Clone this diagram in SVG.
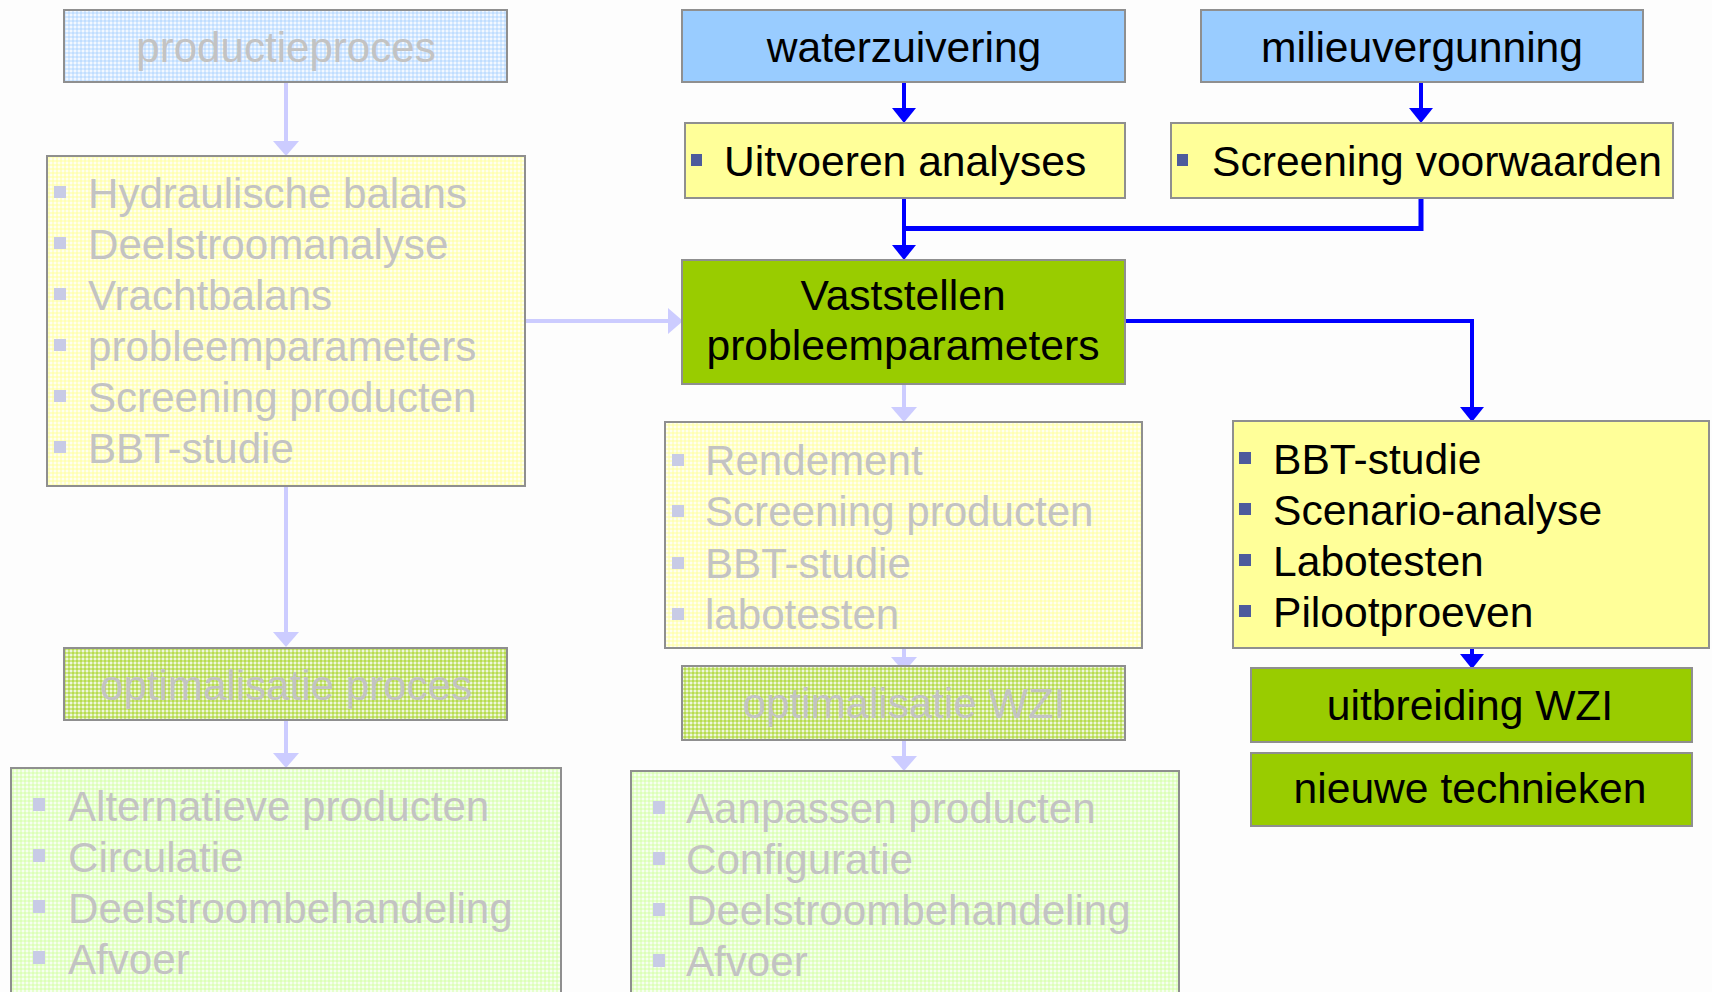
<svg xmlns="http://www.w3.org/2000/svg" width="1712" height="992" viewBox="0 0 1712 992">
<style>
  text { font-family: "Liberation Sans", Arial, sans-serif; font-size: 42.6px; }
  .box { stroke: #8f8f8f; stroke-width: 2; }
  .act { fill: #000; }
  .fad { fill: #c3c3c3; font-size: 42.1px; }
  .mid { text-anchor: middle; }
  .ba { fill: #4d5b9c; }
  .bf { fill: #c8cbe6; }
  .cb { fill: none; stroke: #0000ff; stroke-width: 4; }
  .cl { fill: none; stroke: #ccccff; stroke-width: 4; }
</style>
<defs>
  <pattern id="pBlue" width="4" height="4" patternUnits="userSpaceOnUse">
    <rect width="4" height="4" fill="#f2f8ff"/>
    <rect width="2" height="4" fill="#99ccff" opacity="0.35"/>
    <rect width="4" height="2" fill="#99ccff" opacity="0.35"/>
  </pattern>
  <pattern id="pYel" width="4" height="4" patternUnits="userSpaceOnUse">
    <rect width="4" height="4" fill="#fffff0"/>
    <rect width="2" height="4" fill="#ffff99" opacity="0.45"/>
    <rect width="4" height="2" fill="#ffff99" opacity="0.45"/>
  </pattern>
  <pattern id="pGrn" width="4" height="4" patternUnits="userSpaceOnUse">
    <rect width="4" height="4" fill="#eef7dc"/>
    <rect width="2" height="4" fill="#99cc00" opacity="0.4"/>
    <rect width="4" height="2" fill="#99cc00" opacity="0.4"/>
  </pattern>
  <pattern id="pLgr" width="4" height="4" patternUnits="userSpaceOnUse">
    <rect width="4" height="4" fill="#f6fff0"/>
    <rect width="2" height="4" fill="#ccff99" opacity="0.4"/>
    <rect width="4" height="2" fill="#ccff99" opacity="0.4"/>
  </pattern>
  <marker id="mB" markerUnits="userSpaceOnUse" markerWidth="16" markerHeight="26" refX="0" refY="12" orient="auto" overflow="visible">
    <path d="M0,0 L15,12 L0,24 z" fill="#0000ff"/>
  </marker>
  <marker id="mL" markerUnits="userSpaceOnUse" markerWidth="16" markerHeight="28" refX="0" refY="13" orient="auto" overflow="visible">
    <path d="M0,0 L15,13 L0,26 z" fill="#ccccff"/>
  </marker>
</defs>
<rect width="1712" height="992" fill="#fdfdfd"/>

<g id="connectors">
  <path class="cl" d="M286 82 V141" marker-end="url(#mL)"/>
  <path class="cl" d="M525 321 H668" marker-end="url(#mL)"/>
  <path class="cl" d="M286 486 V632" marker-end="url(#mL)"/>
  <path class="cl" d="M286 720 V753" marker-end="url(#mL)"/>
  <path class="cl" d="M904 384 V407" marker-end="url(#mL)"/>
  <path class="cl" d="M904 649 V657" marker-end="url(#mL)"/>
  <path class="cl" d="M904 740 V756" marker-end="url(#mL)"/>
  <path class="cb" d="M904 82 V108" marker-end="url(#mB)"/>
  <path class="cb" d="M1421 82 V108" marker-end="url(#mB)"/>
  <path class="cb" d="M904 197 V245" marker-end="url(#mB)"/>
  <path class="cb" style="stroke-width:5" d="M1421 197 V228.5 H904"/>
  <path class="cb" d="M1125 321 H1472 V407" marker-end="url(#mB)"/>
  <path class="cb" d="M1472 648 V654" marker-end="url(#mB)"/>
</g>

<g id="productieproces">
  <rect class="box" x="64" y="10" width="443" height="72" fill="url(#pBlue)"/>
  <text class="fad mid" x="286" y="62">productieproces</text>
</g>
<g id="waterzuivering">
  <rect class="box" x="682" y="10" width="443" height="72" fill="#99ccff"/>
  <text class="act mid" x="904" y="62">waterzuivering</text>
</g>
<g id="milieuvergunning">
  <rect class="box" x="1201" y="10" width="442" height="72" fill="#99ccff"/>
  <text class="act mid" x="1422" y="62">milieuvergunning</text>
</g>
<g id="uitvoeren">
  <rect class="box" x="685" y="123" width="440" height="75" fill="#ffff99"/>
  <rect class="ba" x="691" y="154" width="11" height="12"/>
  <text class="act" x="724" y="176">Uitvoeren analyses</text>
</g>
<g id="screening">
  <rect class="box" x="1171" y="123" width="502" height="75" fill="#ffff99"/>
  <rect class="ba" x="1177" y="154" width="11" height="12"/>
  <text class="act" x="1212" y="176">Screening voorwaarden</text>
</g>
<g id="vaststellen">
  <rect class="box" x="682" y="260" width="443" height="124" fill="#99cc00"/>
  <text class="act mid" x="903" y="310">Vaststellen</text>
  <text class="act mid" x="903" y="360">probleemparameters</text>
</g>
<g id="hydraulische">
  <rect class="box" x="47" y="156" width="478" height="330" fill="url(#pYel)"/>
  <g class="bf">
    <rect x="54" y="186" width="12" height="12"/>
    <rect x="54" y="237" width="12" height="12"/>
    <rect x="54" y="288" width="12" height="12"/>
    <rect x="54" y="339" width="12" height="12"/>
    <rect x="54" y="390" width="12" height="12"/>
    <rect x="54" y="441" width="12" height="12"/>
  </g>
  <text class="fad" x="88" y="208">Hydraulische  balans</text>
  <text class="fad" x="88" y="259">Deelstroomanalyse</text>
  <text class="fad" x="88" y="310">Vrachtbalans</text>
  <text class="fad" x="88" y="361">probleemparameters</text>
  <text class="fad" x="88" y="412">Screening producten</text>
  <text class="fad" x="88" y="463">BBT-studie</text>
</g>
<g id="rendement">
  <rect class="box" x="665" y="422" width="477" height="226" fill="url(#pYel)"/>
  <g class="bf">
    <rect x="672" y="454" width="12" height="12"/>
    <rect x="672" y="505" width="12" height="12"/>
    <rect x="672" y="557" width="12" height="12"/>
    <rect x="672" y="608" width="12" height="12"/>
  </g>
  <text class="fad" x="705" y="475">Rendement</text>
  <text class="fad" x="705" y="526">Screening producten</text>
  <text class="fad" x="705" y="578">BBT-studie</text>
  <text class="fad" x="705" y="629">labotesten</text>
</g>
<g id="bbt">
  <rect class="box" x="1233" y="421" width="476" height="227" fill="#ffff99"/>
  <g class="ba">
    <rect x="1239" y="452" width="12" height="12"/>
    <rect x="1239" y="503" width="12" height="12"/>
    <rect x="1239" y="554" width="12" height="12"/>
    <rect x="1239" y="605" width="12" height="12"/>
  </g>
  <text class="act" x="1273" y="474">BBT-studie</text>
  <text class="act" x="1273" y="525">Scenario-analyse</text>
  <text class="act" x="1273" y="576">Labotesten</text>
  <text class="act" x="1273" y="627">Pilootproeven</text>
</g>
<g id="optproces">
  <rect class="box" x="64" y="648" width="443" height="72" fill="url(#pGrn)"/>
  <text class="fad mid" x="286" y="700">optimalisatie proces</text>
</g>
<g id="optwzi">
  <rect class="box" x="682" y="666" width="443" height="74" fill="url(#pGrn)"/>
  <text class="fad mid" x="904" y="718">optimalisatie WZI</text>
</g>
<g id="uitbreiding">
  <rect class="box" x="1251" y="668" width="441" height="74" fill="#99cc00"/>
  <text class="act mid" x="1470" y="720">uitbreiding WZI</text>
</g>
<g id="nieuwe">
  <rect class="box" x="1251" y="753" width="441" height="73" fill="#99cc00"/>
  <text class="act mid" x="1470" y="803">nieuwe technieken</text>
</g>
<g id="alternatieve">
  <rect class="box" x="11" y="768" width="550" height="240" fill="url(#pLgr)"/>
  <g class="bf">
    <rect x="33" y="798" width="12" height="13"/>
    <rect x="33" y="849" width="12" height="13"/>
    <rect x="33" y="900" width="12" height="13"/>
    <rect x="33" y="951" width="12" height="13"/>
  </g>
  <text class="fad" x="68" y="821">Alternatieve producten</text>
  <text class="fad" x="68" y="872">Circulatie</text>
  <text class="fad" x="68" y="923">Deelstroombehandeling</text>
  <text class="fad" x="68" y="974">Afvoer</text>
</g>
<g id="aanpassen">
  <rect class="box" x="631" y="771" width="548" height="240" fill="url(#pLgr)"/>
  <g class="bf">
    <rect x="653" y="801" width="12" height="13"/>
    <rect x="653" y="852" width="12" height="13"/>
    <rect x="653" y="903" width="12" height="13"/>
    <rect x="653" y="954" width="12" height="13"/>
  </g>
  <text class="fad" x="686" y="823">Aanpassen producten</text>
  <text class="fad" x="686" y="874">Configuratie</text>
  <text class="fad" x="686" y="925">Deelstroombehandeling</text>
  <text class="fad" x="686" y="976">Afvoer</text>
</g>
</svg>
